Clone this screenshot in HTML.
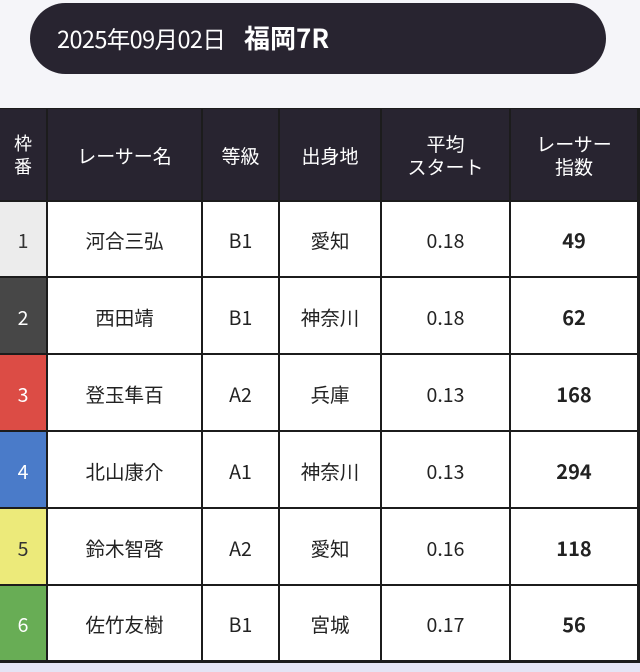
<!DOCTYPE html>
<html><head><meta charset="utf-8"><style>
body{margin:0;width:640px;height:672px;background:#f5f5f9;position:relative;overflow:hidden;font-family:"Noto Sans CJK JP","Liberation Sans",sans-serif;}
.pill{position:absolute;left:30px;top:3px;width:576px;height:71px;background:#282430;border-radius:36px;color:#fff;box-sizing:border-box;}
.pill .d{position:absolute;left:27px;top:20px;font-size:23.5px;letter-spacing:-0.6px;line-height:30px;}
.pill .r{position:absolute;left:214px;top:19px;font-size:26px;font-weight:bold;line-height:32px;}
.tbl{position:absolute;left:0;top:108px;width:640px;height:555px;background:#1c1c1c;}
.c{position:absolute;display:flex;align-items:center;justify-content:center;text-align:center;font-size:19.5px;color:#222;background:#fff;line-height:23px;padding-top:1px;box-sizing:border-box;}
.h{background:#282430;color:#fff;font-size:19px;}
.bot{position:absolute;left:0;top:663px;width:640px;height:9px;background:#e4e4f4;}
</style></head><body>
<div class="pill"><span class="d">2025年09月02日</span><span class="r">福岡7R</span></div>
<div class="tbl"></div>
<div class="bot"></div>
<div id="g"></div>
<script>
const xs=[0,47,202,279,381,510,638];
const ys=[108,201,277,354,431,508,585,661];
const head=["枠<br>番","レーサー名","等級","出身地","平均<br>スタート","レーサー<br>指数"];
const rows=[["1","河合三弘","B1","愛知","0.18","49"],["2","西田靖","B1","神奈川","0.18","62"],["3","登玉隼百","A2","兵庫","0.13","168"],["4","北山康介","A1","神奈川","0.13","294"],["5","鈴木智啓","A2","愛知","0.16","118"],["6","佐竹友樹","B1","宮城","0.17","56"]];
const fc=[["#ececec","#333"],["#474747","#fff"],["#dc4c45","#fff"],["#4a7bc9","#fff"],["#ecea7a","#333"],["#68ad55","#fff"]];
let h="";
function cell(ci,ri,txt,cls,st){
 const x0=xs[ci]+(ci==0?0:1),x1=xs[ci+1]-1,y0=ys[ri]+1,y1=ys[ri+1]-1;
 h+=`<div class="c ${cls}" style="left:${x0}px;top:${y0}px;width:${x1-x0}px;height:${y1-y0}px;${st||''}">${txt}</div>`;
}
head.forEach((t,i)=>cell(i,0,t,"h",i==0?"font-size:18px":""));
rows.forEach((r,ri)=>r.forEach((t,ci)=>{
 let st="";
 if(ci==0)st=`background:${fc[ri][0]};color:${fc[ri][1]}`;
 if(ci==5)st+="font-weight:bold;font-size:20px";
 cell(ci,ri+1,t,"",st);
}));
document.getElementById("g").innerHTML=h;
</script>
</body></html>
